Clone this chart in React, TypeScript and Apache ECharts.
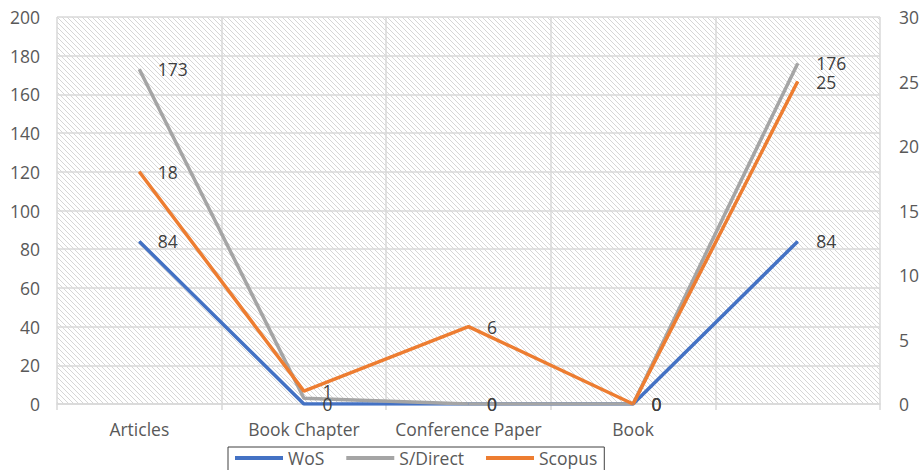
import React, { useEffect, useRef } from 'react';
import * as echarts from 'echarts';

const categories = ['Articles', 'Book Chapter', 'Conference Paper', 'Book', ''];
const wosValues = [84, 0, 0, 0, 84];
const sDirectValues = [173, 3, 0, 0, 176];
const sDirectLabelShown = [true, false, true, true, true];
const scopusValues = [18, 1, 6, 0, 25];
const seriesNames = ['WoS', 'S/Direct', 'Scopus'];
const leftAxis = { min: 0, max: 200, interval: 20 };
const rightAxis = { min: 0, max: 30, interval: 5 };

const FONT = 'Open Sans';
const FS = 17.5;
const GRID_COLOR = '#d9d9d9';
const AXIS_TEXT = '#595959';
const LABEL_TEXT = '#404040';

function makeHatch() {
  const s = 5;
  const c = document.createElement('canvas');
  c.width = s;
  c.height = s;
  const ctx = c.getContext('2d')!;
  ctx.fillStyle = '#ffffff';
  ctx.fillRect(0, 0, s, s);
  ctx.strokeStyle = '#d6d6d6';
  ctx.lineWidth = 1;
  ctx.beginPath();
  ctx.moveTo(-1, -1);
  ctx.lineTo(s + 1, s + 1);
  ctx.moveTo(-1, s - 1);
  ctx.lineTo(1, s + 1);
  ctx.moveTo(s - 1, -1);
  ctx.lineTo(s + 1, 1);
  ctx.stroke();
  return c;
}

export default function App() {
  const ref = useRef<HTMLDivElement>(null);
  useEffect(() => {
    if (!ref.current) return;
    const chart = echarts.init(ref.current, null, { renderer: 'svg' });
    const hatch = makeHatch();
    const labelBase = {
      show: true,
      position: 'right',
      distance: 18,
      color: LABEL_TEXT,
      fontSize: FS,
      fontFamily: FONT,
    };
    const option: any = {
      animation: false,
      backgroundColor: '#ffffff',
      textStyle: { fontFamily: FONT },
      grid: {
        left: 57,
        right: 41,
        top: 17,
        bottom: 66,
        show: true,
        borderWidth: 0,
        backgroundColor: { image: hatch, repeat: 'repeat', imageWidth: 5, imageHeight: 5 },
      },
      legend: {
        data: seriesNames,
        left: 228,
        top: 447,
        icon: 'rect',
        itemWidth: 48,
        itemHeight: 4,
        itemGap: 22,
        borderColor: '#404040',
        borderWidth: 1,
        padding: [2, 7, 10, 7],
        textStyle: { fontSize: FS, color: AXIS_TEXT, fontFamily: FONT },
      },
      xAxis: {
        type: 'category',
        data: categories,
        boundaryGap: true,
        axisLine: { lineStyle: { color: GRID_COLOR, width: 1.5 } },
        axisTick: { show: true, length: 6, lineStyle: { color: GRID_COLOR, width: 1.5 } },
        axisLabel: { color: AXIS_TEXT, fontSize: FS, fontFamily: FONT, margin: 16, interval: 0 },
        splitLine: { show: true, lineStyle: { color: GRID_COLOR, width: 1.5 } },
      },
      yAxis: [
        {
          type: 'value',
          ...leftAxis,
          axisLine: { show: false },
          axisTick: { show: false },
          axisLabel: { color: AXIS_TEXT, fontSize: FS, fontFamily: FONT, margin: 17 },
          splitLine: { show: true, lineStyle: { color: GRID_COLOR, width: 1.5 } },
        },
        {
          type: 'value',
          ...rightAxis,
          position: 'right',
          axisLine: { show: false },
          axisTick: { show: false },
          axisLabel: { color: AXIS_TEXT, fontSize: FS, fontFamily: FONT, margin: 19 },
          splitLine: { show: false },
        },
      ],
      series: [
        {
          name: 'WoS',
          type: 'line',
          data: wosValues,
          yAxisIndex: 0,
          symbol: 'circle',
          symbolSize: 1,
          color: '#4472C4',
          lineStyle: { width: 3.5, color: '#4472C4' },
          label: labelBase,
        },
        {
          name: 'S/Direct',
          type: 'line',
          data: sDirectValues.map((v, i) => ({ value: v, label: { show: sDirectLabelShown[i] } })),
          yAxisIndex: 0,
          symbol: 'circle',
          symbolSize: 1,
          color: '#A5A5A5',
          lineStyle: { width: 3.5, color: '#A5A5A5' },
          label: labelBase,
        },
        {
          name: 'Scopus',
          type: 'line',
          data: scopusValues,
          yAxisIndex: 1,
          symbol: 'circle',
          symbolSize: 1,
          color: '#ED7D31',
          lineStyle: { width: 3.5, color: '#ED7D31' },
          label: labelBase,
        },
      ],
    };
    chart.setOption(option);
    return () => chart.dispose();
  }, []);
  return (
    <div
      ref={ref}
      style={{ position: 'fixed', left: 0, top: 0, width: 922, height: 470, background: '#fff' }}
    />
  );
}
